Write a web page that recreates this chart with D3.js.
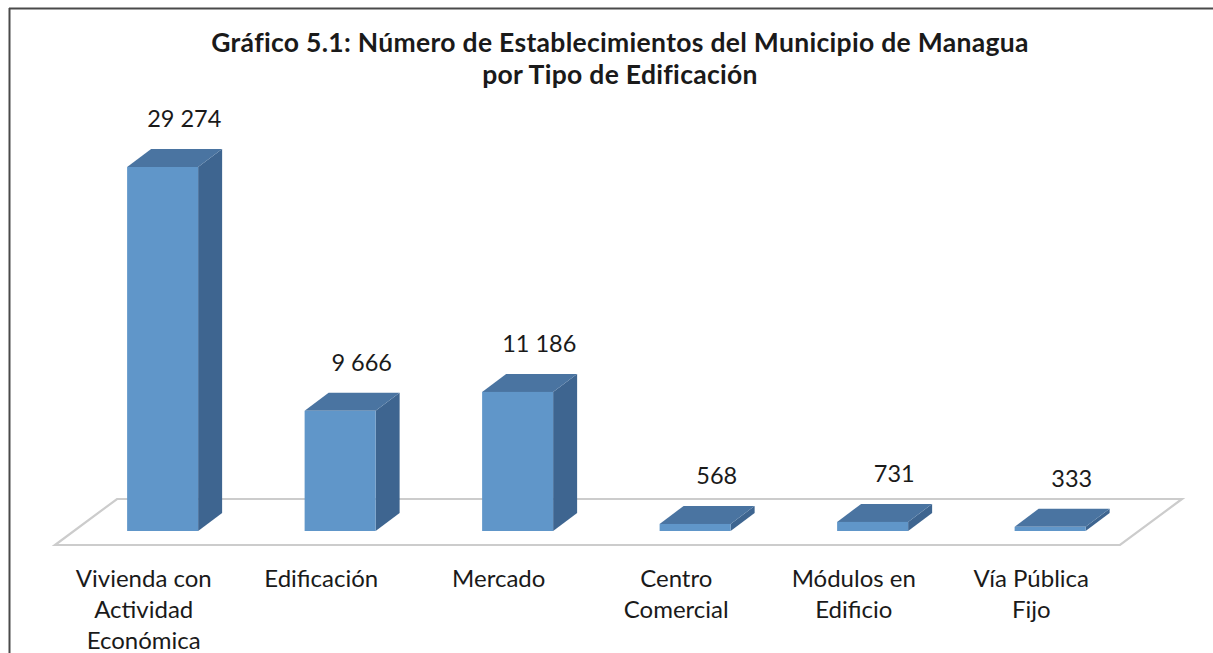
<!DOCTYPE html>
<html>
<head>
<meta charset="utf-8">
<script src="https://cdn.jsdelivr.net/npm/d3@7"></script>
<style>
  html, body { margin: 0; padding: 0; background: #fff; }
  svg { display: block; }
</style>
</head>
<body>
<svg id="chart" width="1213" height="653"></svg>
<script>
const titleLines = ["Gráfico 5.1: Número de Establecimientos del Municipio de Managua", "por Tipo de Edificación"];
const categories = ["Vivienda con Actividad Económica", "Edificación", "Mercado", "Centro Comercial", "Módulos en Edificio", "Vía Pública Fijo"];
const categoryLines = [["Vivienda con", "Actividad", "Económica"], ["Edificación"], ["Mercado"], ["Centro", "Comercial"], ["Módulos en", "Edificio"], ["Vía Pública", "Fijo"]];
const values = [29274, 9666, 11186, 568, 731, 333];

const svg = d3.select("#chart");
const font = "Lato, 'Open Sans', sans-serif";

// frame (top and left edges visible)
svg.append("line").attr("x1", 9).attr("x2", 1213).attr("y1", 8.5).attr("y2", 8.5).attr("stroke", "#4a4a4a").attr("stroke-width", 2);
svg.append("line").attr("x1", 9.5).attr("x2", 9.5).attr("y1", 8).attr("y2", 653).attr("stroke", "#4a4a4a").attr("stroke-width", 2);

// title
svg.append("g").selectAll("text").data(titleLines).join("text")
  .attr("x", 620).attr("y", (d, i) => 52 + i * 32)
  .attr("text-anchor", "middle")
  .attr("font-family", font).attr("font-weight", "bold").attr("font-size", 26.5)
  .attr("letter-spacing", 0.3)
  .attr("fill", "#1a1a1a")
  .text(d => d);

// geometry of the 3D floor
const floorFrontY = 545, floorBackY = 499;
const floorShiftX = 62;
const frontX0 = 55, frontX1 = 1120;
const baseY = 531;
const depthDx = 24, depthDy = 18;
const baseShift = (floorFrontY - baseY) / (floorFrontY - floorBackY) * floorShiftX;

const floorPts = [[frontX0, floorFrontY], [frontX1, floorFrontY], [frontX1 + floorShiftX, floorBackY], [frontX0 + floorShiftX, floorBackY]];
svg.append("polygon")
  .attr("points", floorPts.map(p => p.join(",")).join(" "))
  .attr("fill", "#fff").attr("stroke", "#cccccc").attr("stroke-width", 2.2);

const x = d3.scaleBand().domain(categories)
  .range([frontX0 + baseShift, frontX1 + baseShift])
  .paddingInner(0.6).paddingOuter(0.3);
const xLab = d3.scaleBand().domain(categories).range([frontX0, frontX1]);
const y = d3.scaleLinear().domain([0, d3.max(values)]).range([baseY, 167]);

const data = categories.map((c, i) => ({ c, v: values[i], lines: categoryLines[i] }));

const bars = svg.append("g").selectAll("g").data(data).join("g");
bars.each(function(d) {
  const g = d3.select(this);
  const x0 = x(d.c), x1 = x0 + x.bandwidth();
  const yt = y(d.v);
  // side face
  g.append("polygon")
    .attr("points", [[x1, baseY], [x1 + depthDx, baseY - depthDy], [x1 + depthDx, yt - depthDy], [x1, yt]].map(p => p.join(",")).join(" "))
    .attr("fill", "#3e6590");
  // top face
  g.append("polygon")
    .attr("points", [[x0, yt], [x1, yt], [x1 + depthDx, yt - depthDy], [x0 + depthDx, yt - depthDy]].map(p => p.join(",")).join(" "))
    .attr("fill", "#4a74a1");
  // front face
  g.append("rect")
    .attr("x", x0).attr("y", yt).attr("width", x1 - x0).attr("height", baseY - yt)
    .attr("fill", "#6096c9");
});

const fmt = d3.formatLocale({ decimal: ",", thousands: " ", grouping: [3], currency: ["", ""] }).format(",d");

svg.append("g").selectAll("text").data(data).join("text")
  .attr("x", d => x(d.c) + x.bandwidth() / 2 + depthDx * 0.9)
  .attr("y", d => y(d.v) - depthDy - 22)
  .attr("text-anchor", "middle")
  .attr("font-family", font).attr("font-size", 23.5).attr("fill", "#1a1a1a")
  .text(d => fmt(d.v));

const labels = svg.append("g").selectAll("text").data(data).join("text")
  .attr("text-anchor", "middle")
  .attr("font-family", font).attr("font-size", 24).attr("fill", "#1a1a1a");
labels.each(function(d) {
  const t = d3.select(this);
  const cx = xLab(d.c) + xLab.bandwidth() / 2;
  d.lines.forEach((ln, i) => {
    t.append("tspan").attr("x", cx).attr("y", 587 + i * 31).text(ln);
  });
});
</script>
</body>
</html>
